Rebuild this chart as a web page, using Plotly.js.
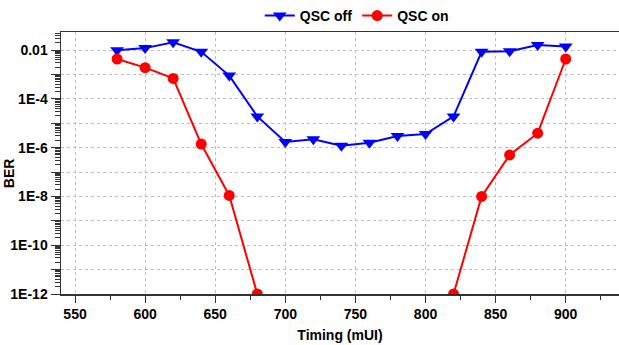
<!DOCTYPE html>
<html>
<head>
<meta charset="utf-8">
<script src="https://cdn.plot.ly/plotly-3.0.1.min.js"></script>
<style>html,body{margin:0;padding:0;background:#fff;}#chart{width:619px;height:345px;}</style>
</head>
<body>
<div id="chart"></div>
<script>
const timing = [580, 600, 620, 640, 660, 680, 700, 720, 740, 760, 780, 800, 820, 840, 860, 880, 900];
const berOff = [0.0098, 0.012, 0.021, 0.0085, 0.0009, 1.9e-5, 1.7e-6, 2.2e-6, 1.2e-6, 1.6e-6, 3.0e-6, 3.6e-6, 1.9e-5, 0.0085, 0.009, 0.016, 0.014];
const berOn = [0.0043, 0.0019, 0.00069, 1.4e-6, 1.1e-8, 1e-12, null, null, null, null, null, null, 1e-12, 1e-8, 5e-7, 3.9e-6, 0.0043];
const xTicks = [550, 600, 650, 700, 750, 800, 850, 900];
const yTickVals = [1e-2, 1e-3, 1e-4, 1e-5, 1e-6, 1e-7, 1e-8, 1e-9, 1e-10, 1e-11, 1e-12];
const yTickText = ['0.01', '', '1E-4', '', '1E-6', '', '1E-8', '', '1E-10', '', '1E-12'];

const minorY = [];
for (let e = -13; e <= -1; e++) for (let m = 2; m <= 9; m++) minorY.push(m * Math.pow(10, e));

const font = {family: 'Liberation Sans, Arial, sans-serif', size: 14, color: '#000', weight: 'bold'};

const traces = [
  {x: timing, y: berOff, name: 'QSC off', mode: 'lines+markers',
   line: {color: '#0000ff', width: 2}, marker: {symbol: 'triangle-down', size: 12, color: '#0000ff'}},
  {x: timing, y: berOn, name: 'QSC on', mode: 'lines+markers', connectgaps: false,
   line: {color: '#ff0000', width: 2}, marker: {symbol: 'circle', size: 11, color: '#ff0000'}}
];

const layout = {
  width: 619, height: 345,
  margin: {l: 61, r: 0, t: 32, b: 51},
  paper_bgcolor: '#fff', plot_bgcolor: '#fff',
  font: font,
  showlegend: true,
  legend: {orientation: 'h', x: 0.53, xanchor: 'center', y: 1.0, yanchor: 'bottom',
           font: font, itemwidth: 30, tracegroupgap: 0, bgcolor: 'rgba(0,0,0,0)'},
  xaxis: {
    range: [540, 938], tickmode: 'array', tickvals: xTicks,
    ticks: 'outside', ticklen: 7, tickwidth: 1, tickcolor: '#333',
    showline: true, linecolor: '#333', linewidth: 1.5, mirror: true,
    showgrid: true, gridcolor: '#bbbbbb', griddash: '3px,3px', gridwidth: 1,
    zeroline: false, tickfont: font,
    minor: {tickmode: 'array', tickvals: [575, 625, 675, 725, 775, 825, 875, 925], ticks: 'outside', ticklen: 4, tickcolor: '#333', showgrid: false},
    title: {text: 'Timing (mUI)', font: font, standoff: 9}
  },
  yaxis: {
    type: 'log', range: [-12, -1.26], tickmode: 'array', tickvals: yTickVals, ticktext: yTickText,
    ticks: 'outside', ticklen: 9, tickwidth: 1, tickcolor: '#333',
    showline: true, linecolor: '#333', linewidth: 1.5,
    showgrid: true, gridcolor: '#bbbbbb', griddash: '3px,3px', gridwidth: 1,
    zeroline: false, tickfont: font,
    minor: {tickmode: 'array', tickvals: minorY, ticks: 'outside', ticklen: 5, tickcolor: '#333', showgrid: false}
  },
  annotations: [
    {text: 'BER', xref: 'paper', yref: 'paper', x: -0.092, y: 0.46, xanchor: 'center', yanchor: 'middle',
     textangle: -90, showarrow: false, font: font}
  ]
};

Plotly.newPlot('chart', traces, layout, {displayModeBar: false, staticPlot: true});
</script>
</body>
</html>
